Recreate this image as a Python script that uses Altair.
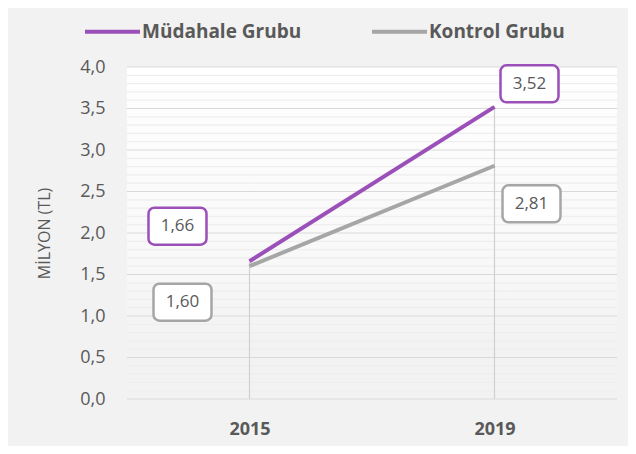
import altair as alt
import pandas as pd

years = ["2015", "2019"]
groups = ["Müdahale Grubu", "Kontrol Grubu"]
mudahale = [1.66, 3.52]
kontrol = [1.60, 2.81]
colors = ["#9B4FB8", "#A6A6A6"]
major_ticks = [0.0, 0.5, 1.0, 1.5, 2.0, 2.5, 3.0, 3.5, 4.0]
minor_ticks = [round(i / 10, 1) for i in range(41)]

# label box offsets (pixels) per (year, group)
label_offsets = {
    ("2015", "Müdahale Grubu"): (-72, -35),
    ("2015", "Kontrol Grubu"): (-67, 36),
    ("2019", "Müdahale Grubu"): (35, -23),
    ("2019", "Kontrol Grubu"): (37, 38),
}

rows = []
for g, vals in zip(groups, [mudahale, kontrol]):
    for y, v in zip(years, vals):
        rows.append({"year": y, "group": g, "value": v,
                     "label": f"{v:.2f}".replace(".", ",")})
df = pd.DataFrame(rows)
drop = df.groupby("year", as_index=False)["value"].max()
major_df = pd.DataFrame({"value": major_ticks})
minor_df = pd.DataFrame({"value": [t for t in minor_ticks if t not in major_ticks]})

FONT = "Open Sans"
TXT = "#595959"

xenc = alt.X("year:N", scale=alt.Scale(type="point", padding=0.5),
             axis=alt.Axis(title=None, labelFontWeight="bold", labelFontSize=18,
                           labelColor=TXT, labelPadding=21, ticks=False,
                           domain=False, labelAngle=0, labelFont=FONT))
yscale = alt.Scale(domain=[0, 4], nice=False, zero=True)
yaxis = alt.Axis(title="MİLYON (TL)", values=major_ticks,
                 labelExpr="replace(format(datum.value, '.1f'), '.', ',')",
                 grid=False,
                 ticks=False, domain=False, labelFontSize=18,
                 labelColor=TXT, labelPadding=22, labelFont=FONT,
                 titleFontSize=16, titleFontWeight="normal",
                 titleColor=TXT, titlePadding=27, titleFont=FONT)
base_y = alt.Y("value:Q", scale=yscale, axis=yaxis)

bg = alt.Chart(pd.DataFrame({"a": [0]})).mark_rect(
    color=alt.Gradient(gradient="linear", x1=0, y1=0, x2=0, y2=1,
                       stops=[alt.GradientStop(offset=0, color="#ffffff"),
                              alt.GradientStop(offset=0.6, color="#f8f8f8"),
                              alt.GradientStop(offset=0.85, color="#f2f2f2"),
                              alt.GradientStop(offset=1, color="#f2f2f2")])
).encode(x=alt.value(0), x2=alt.value(490), y=alt.value(0), y2=alt.value(332))

minor = alt.Chart(minor_df).mark_rule(color="#eeeeee", strokeWidth=1.2).encode(y=base_y)
major = alt.Chart(major_df).mark_rule(color="#d9d9d9", strokeWidth=1.2).encode(y=base_y)

drops = alt.Chart(drop).mark_rule(color="#d0d0d0", strokeWidth=1.2).encode(
    x=xenc, y=base_y, y2=alt.datum(0))

lines = alt.Chart(df).mark_line(strokeWidth=4, strokeCap="butt").encode(
    x=xenc, y=base_y,
    color=alt.Color("group:N", scale=alt.Scale(domain=groups, range=colors),
                    legend=alt.Legend(title=None, orient="none", direction="horizontal",
                                      legendX=-44, legendY=-65, symbolType="stroke",
                                      symbolSize=3025, symbolStrokeWidth=4,
                                      labelFontSize=19, labelFontWeight="bold",
                                      labelColor=TXT, labelFont=FONT, labelOffset=0,
                                      columnPadding=62, padding=0)),
    order=alt.Order("year:N"))

layers = [bg, minor, major, drops, lines]
for (yr, g), (dx, dy) in label_offsets.items():
    sub = df[(df["year"] == yr) & (df["group"] == g)]
    col = colors[groups.index(g)]
    box = alt.Chart(sub).mark_rect(width=58, height=37, cornerRadius=6, fill="white",
                                   stroke=col, strokeWidth=2.5,
                                   xOffset=dx, yOffset=dy).encode(x=xenc, y=base_y)
    txt = alt.Chart(sub).mark_text(dx=dx, dy=dy, fontSize=17, color=TXT,
                                   font=FONT).encode(x=xenc, y=base_y, text="label:N")
    layers += [box, txt]

chart = alt.layer(*layers).properties(
    width=490, height=332,
    background="#f2f2f2",
    autosize=alt.AutoSizeParams(type="none"),
    padding={"left": 119, "top": 59, "right": 11, "bottom": 47},
).configure_view(stroke=None)

chart.save("out.html", embed_options={"renderer": "svg", "actions": False})
